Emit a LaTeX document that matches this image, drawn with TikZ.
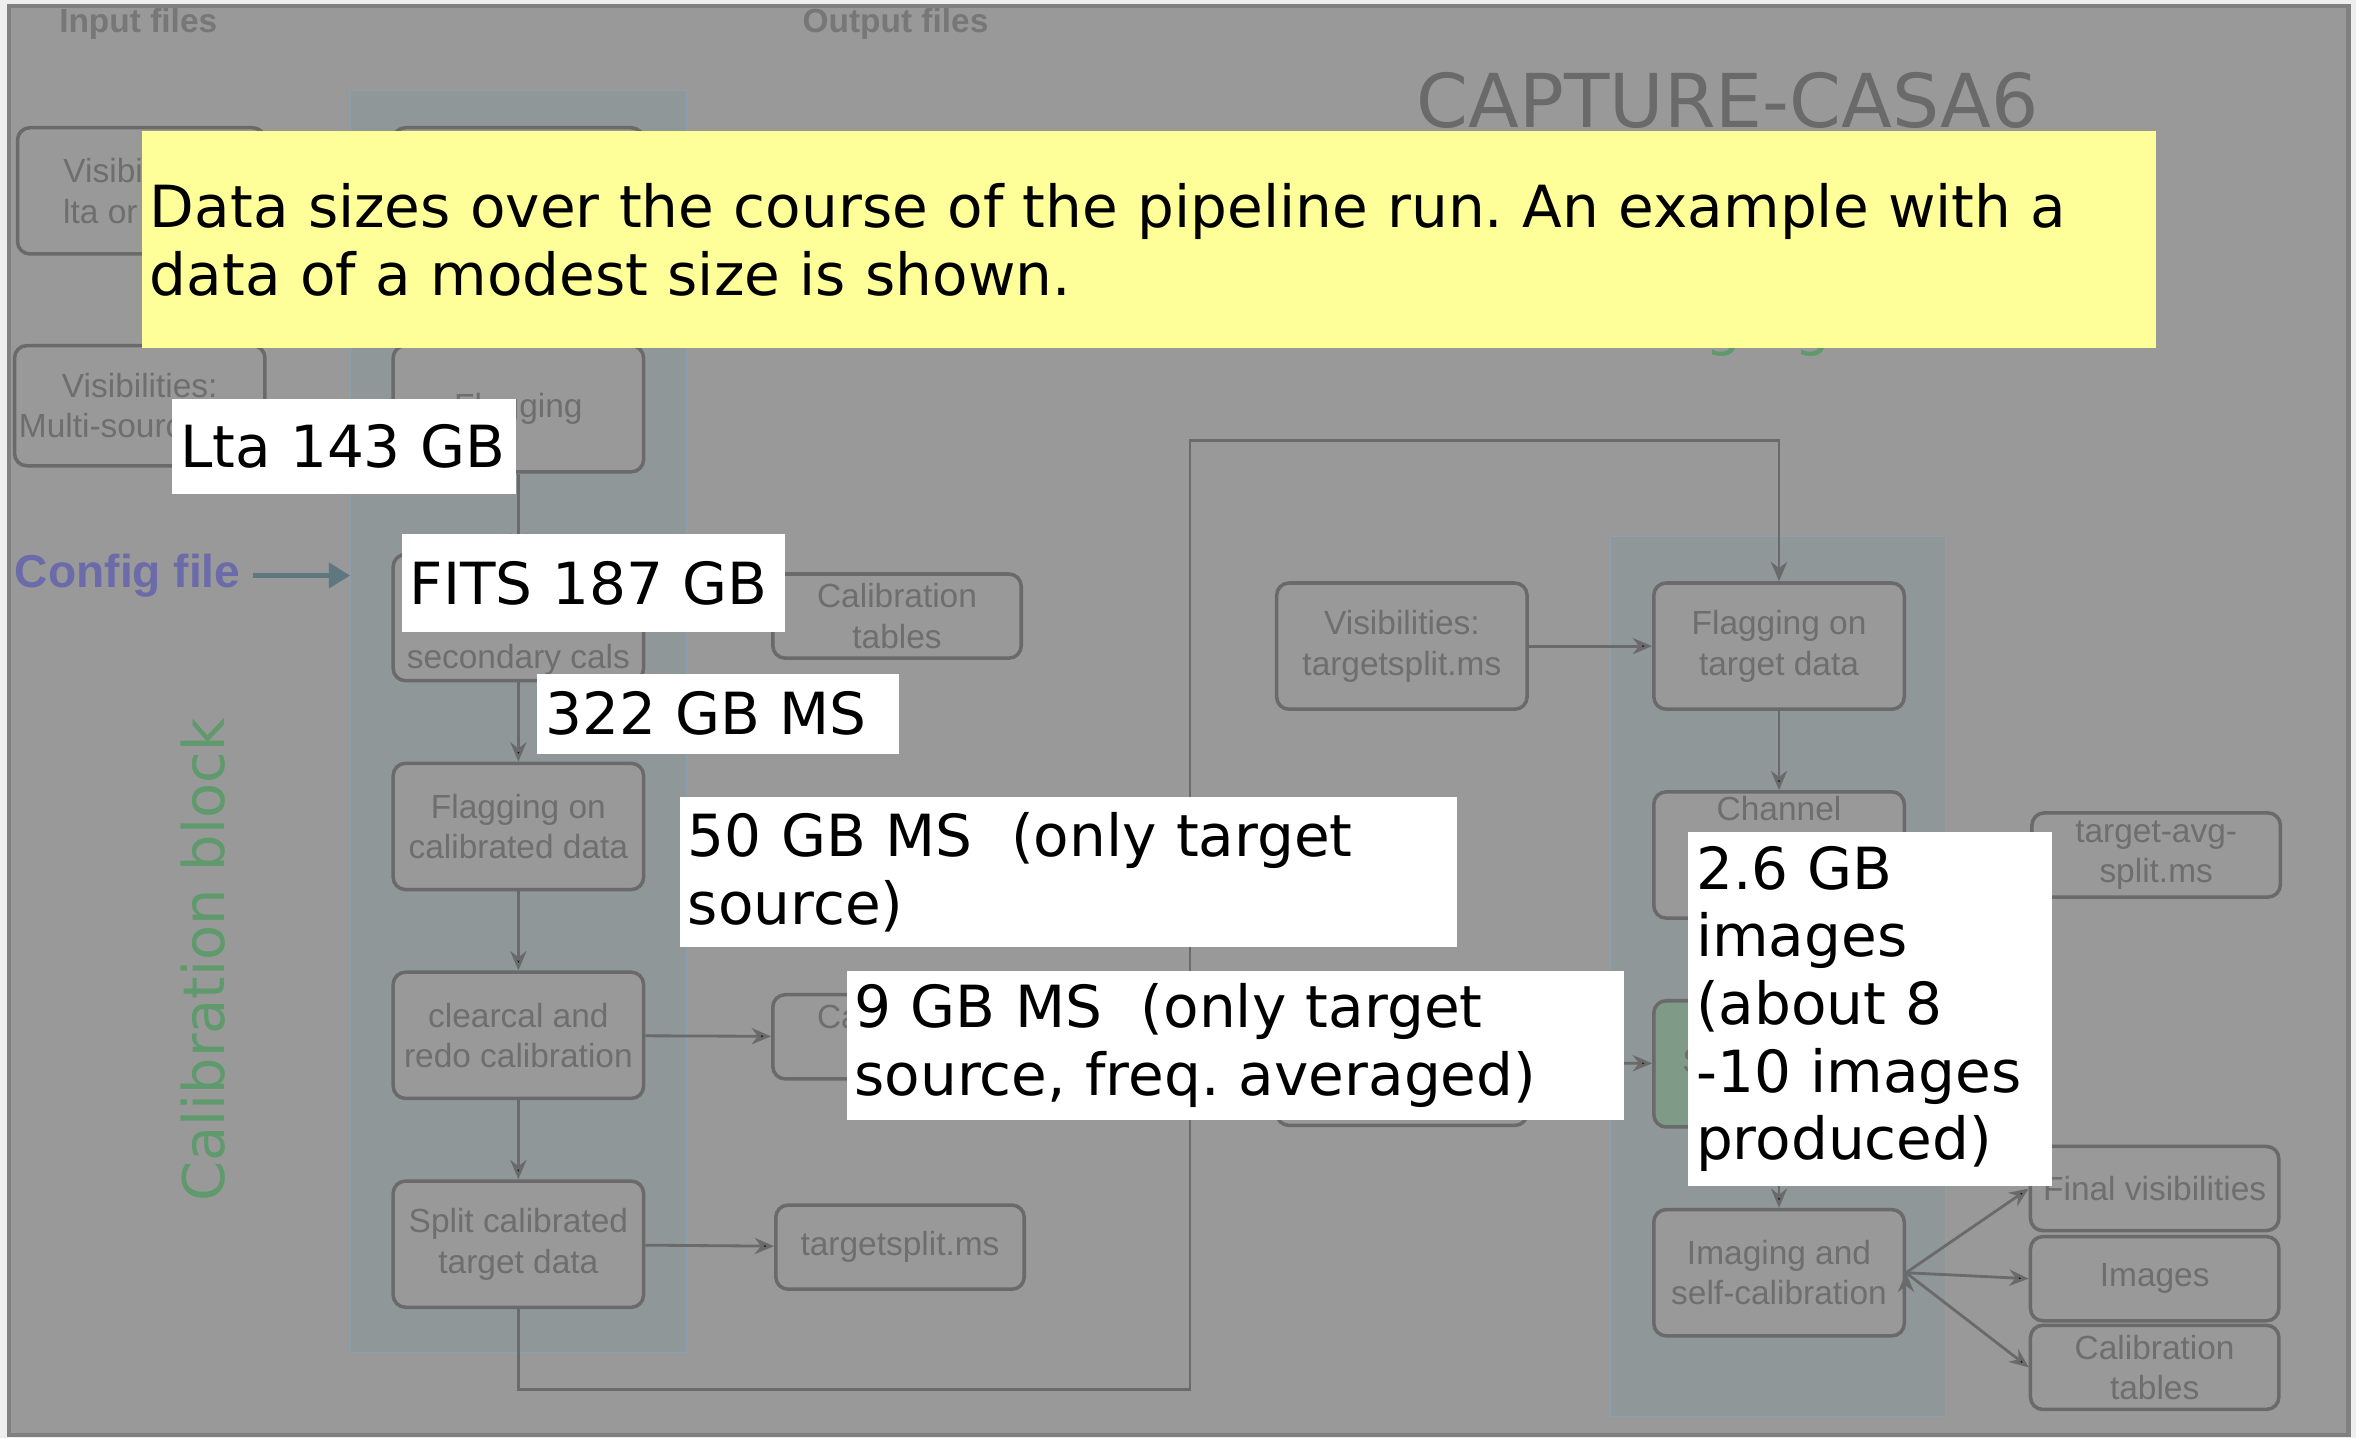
\documentclass[tikz,border=0pt]{standalone}
\usepackage{fontspec}
\setmainfont{DejaVu Sans}
\newfontfamily\boxfont{Liberation Sans}
\usetikzlibrary{positioning, arrows.meta}
\frenchspacing

\definecolor{outsidegray}{HTML}{EEEEEE}
\definecolor{bggray}{HTML}{999999}
\definecolor{framegray}{HTML}{808080}
\definecolor{linegray}{HTML}{6A6A6A}
\definecolor{textgray}{HTML}{6E6E6E}
\definecolor{headgray}{HTML}{777777}
\definecolor{titlegray}{HTML}{6A6A6A}
\definecolor{laneblue}{HTML}{8F9799}
\definecolor{laneedge}{HTML}{8CA0AE}
\definecolor{blockgreen}{HTML}{5E9A6B}
\definecolor{stepgreen}{HTML}{7F9A86}
\definecolor{configblue}{HTML}{6B6BAA}
\definecolor{configarrow}{HTML}{5F7880}
\definecolor{noteyellow}{HTML}{FFFF99}

\begin{document}
\begin{tikzpicture}[x=0.015cm, y=-0.015cm, node distance=2.085cm, on grid,
    stepbox/.style={draw=linegray, line width=1pt, fill=bggray, rounded corners=3.5pt,
        minimum width=2.5cm, minimum height=1.26cm, align=center, text=textgray,
        inner sep=1pt, font=\boxfont\fontsize{9.5}{11.5}\selectfont},
    filebox/.style={stepbox, minimum width=2.48cm, minimum height=0.84cm},
    flow/.style={draw=linegray, line width=0.8pt, -{Stealth[length=5.5pt, width=4.6pt]}},
    lane/.style={fill=laneblue, draw=laneedge, line width=0.3pt},
    sizebox/.style={fill=white, anchor=north west, align=left, text=black,
        inner xsep=0.08cm, inner ysep=0pt, font=\fontsize{16.5}{19.2}\selectfont}]
    \useasboundingbox (0,0) rectangle (1568,957);
    \fill[outsidegray] (0,0) rectangle (1568,957);
    \draw[framegray, fill=bggray, line width=1.3pt] (6,4) rectangle (1563,955);

    % swim lanes
    \draw[lane] (233,60) rectangle (457,900);
    \draw[lane] (1072,357) rectangle (1295,943);

    % headings
    \node[text=headgray, font=\boxfont\bfseries\fontsize{9.5}{11}\selectfont] (inhead) at (92,16) {Input files};
    \node[text=headgray, font=\boxfont\bfseries\fontsize{9.5}{11}\selectfont] (outhead) at (596,16) {Output files};
    \node[text=titlegray, font=\fontsize{21.1}{25}\selectfont] (title) at (1150,67) {CAPTURE-CASA6};
    \node[rotate=90, text=blockgreen, font=\fontsize{16.3}{19}\selectfont] (calblock) at (135,639) {Calibration block};
    \node[anchor=base west, text=blockgreen, font=\fontsize{16.3}{19}\selectfont] (imgblock) at (1055,229) {Imaging block};

    % config file
    \node[text=configblue, font=\boxfont\bfseries\fontsize{13.1}{15}\selectfont] (config) at (85,383) {Config file};
    \coordinate (lanein) at (233,383);
    \draw[configarrow, line width=1.4pt, -{Triangle[length=6pt, width=7pt]}] (config.east) -- (lanein);

    % input files
    \node[stepbox, minimum width=2.47cm] (visin) at (94,127) {Visibilities:\\lta or FITS};
    \node[stepbox, minimum width=2.5cm, minimum height=1.2cm] (msin) at (93,270) {Visibilities:\\Multi-source MS};

    % calibration block
    \node[stepbox] (prep) at (345,127) {};
    \node[stepbox] (flag) at (345,272) {Flagging};
    \node[stepbox, below=of flag] (cal) {\strut\\\strut\\secondary cals};
    \node[stepbox, below=of cal] (flagcal) {Flagging on\\calibrated data};
    \node[stepbox, below=of flagcal] (redo) {clearcal and\\redo calibration};
    \node[stepbox, below=of redo] (splittgt) {Split calibrated\\target data};

    % output files
    \node[filebox] (caltab) at (597,410) {Calibration\\tables};
    \node[filebox] (caltabtwo) at (597,690) {Calibration\\tables};
    \node[filebox] (tsplit) at (599,830) {targetsplit.ms};

    % imaging block
    \node[stepbox] (vistgt) at (933,430) {Visibilities:\\targetsplit.ms};
    \node[stepbox] (flagtgt) at (1184,430) {Flagging on\\target data};
    \node[stepbox, below=of flagtgt] (chanavg) {Channel\\\strut\\\strut};
    \node[stepbox, below=of chanavg, fill=stepgreen] (splitdata) {Splitting data};
    \node[stepbox, below=of splitdata] (imgself) {Imaging and\\self-calibration};
    \node[stepbox] (visavg) at (933,707) {};
    \node[filebox] (avgms) at (1435,569) {target-avg-\\split.ms};
    \node[filebox] (finalvis) at (1434,791) {Final visibilities};
    \node[filebox] (images) at (1434,851) {Images};
    \node[filebox] (caltabthree) at (1434,910) {Calibration\\tables};

    \coordinate (bendlow) at (792,925);
    \coordinate (bendhigh) at (792,293);

    \path[flow]
        (flag) edge (cal)
        (cal) edge (flagcal)
        (flagcal) edge (redo)
        (redo) edge (splittgt)
        (redo) edge (caltabtwo)
        (splittgt) edge (tsplit)
        (vistgt) edge (flagtgt)
        (flagtgt) edge (chanavg)
        (visavg) edge (splitdata)
        (splitdata) edge (imgself)
        (imgself.east) edge (finalvis.west)
        (imgself.east) edge (images.west)
        (imgself.east) edge (caltabthree.west);
    \draw[flow] (splittgt.south) |- (bendlow) -- (bendhigh) -| (flagtgt.north);

    % data size notes
    \node[sizebox, fill=noteyellow, text width=19.95cm, minimum height=2.16cm] (note) at (94,87)
        {Data sizes over the course of the pipeline run. An example with a\\data of a modest size is shown.};
    \node[sizebox, text width=3.275cm, minimum height=0.945cm] (lta) at (114,265) {Lta 143 GB};
    \node[sizebox, text width=3.665cm, minimum height=0.975cm] (fits) at (267,355) {FITS 187 GB};
    \node[sizebox, text width=3.455cm, minimum height=0.795cm] (msfull) at (357,448) {322 GB MS};
    \node[sizebox, text width=7.595cm, minimum height=1.5cm] (mstarget) at (452,530)
        {50 GB MS\ \ (only target\\source)};
    \node[sizebox, text width=7.595cm, minimum height=1.485cm] (msavg) at (563,646)
        {9 GB MS\ \ (only target\\source, freq. averaged)};
    \node[sizebox, text width=3.47cm, minimum height=3.54cm] (imgsize) at (1123,553)
        {2.6 GB\\images\\(about 8\\-10 images\\produced)};
\end{tikzpicture}
\end{document}
